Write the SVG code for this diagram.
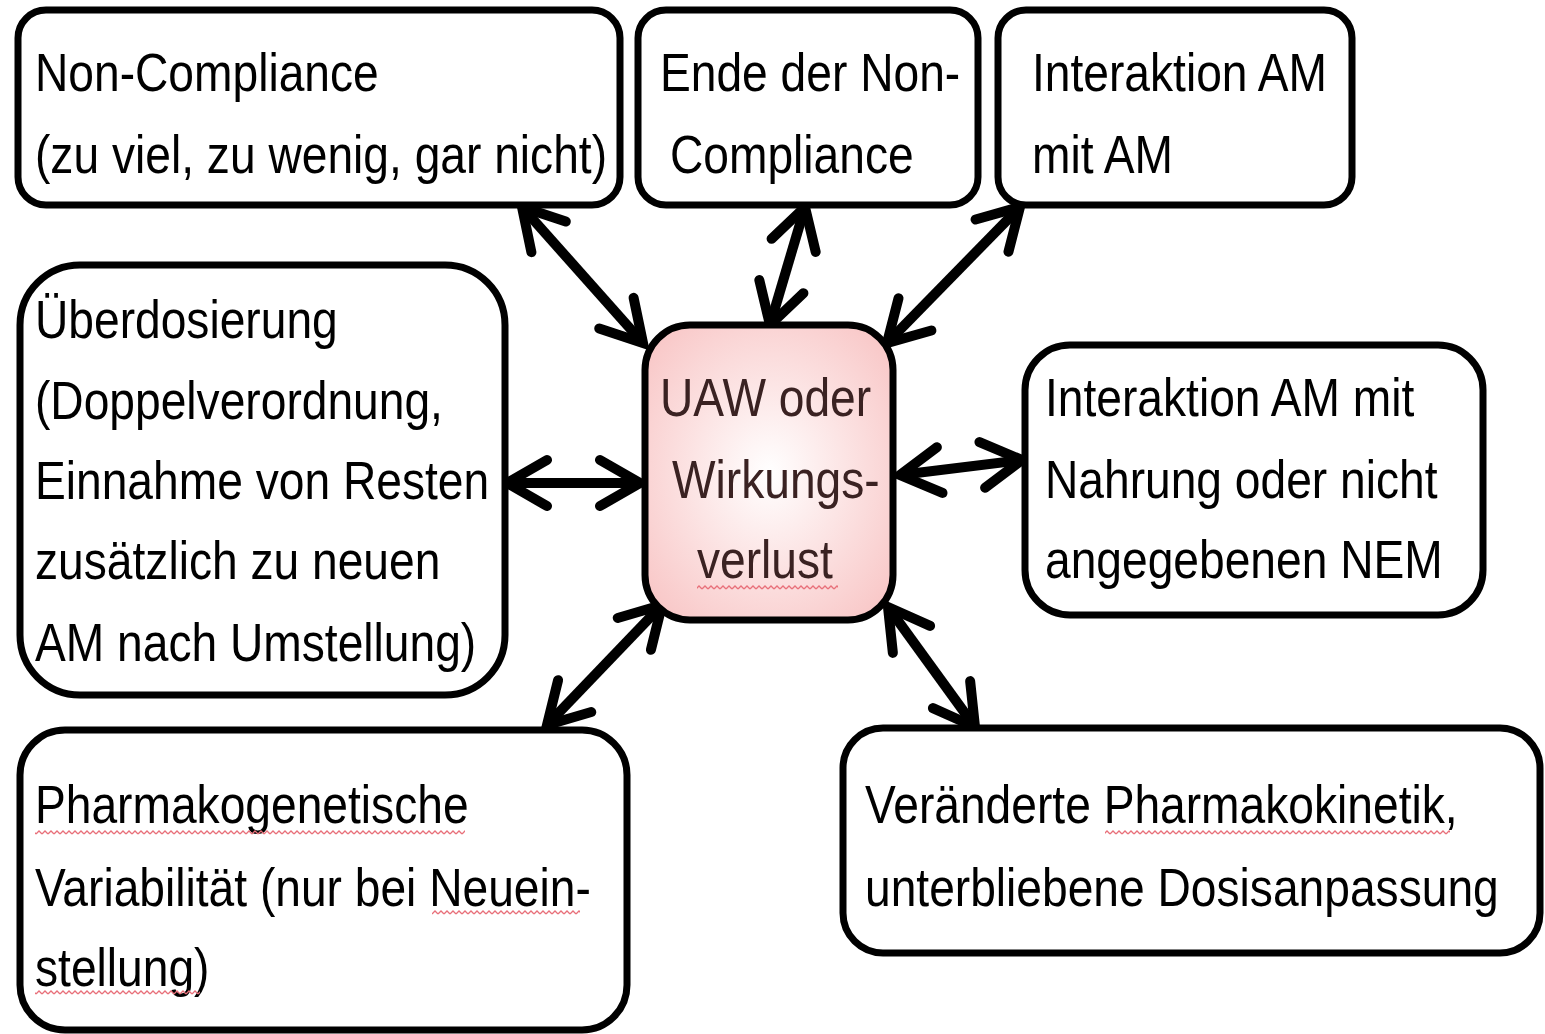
<svg xmlns="http://www.w3.org/2000/svg" width="1545" height="1034" viewBox="0 0 1545 1034">
<defs>
<style>
.box{fill:#fff;stroke:#000;stroke-width:7}
.t{font-family:"Liberation Sans",Arial,sans-serif;font-size:54px;fill:#000}
.c{fill:#3a2222}
.con{stroke:#000;stroke-width:10;fill:none;stroke-linecap:butt}
.sq{fill:url(#squig)}
</style>
<radialGradient id="pink" cx="50%" cy="50%" r="70%">
<stop offset="0" stop-color="#ffffff"/>
<stop offset="1" stop-color="#f8c2c2"/>
</radialGradient>
<pattern id="squig" width="6" height="5" patternUnits="userSpaceOnUse">
<path d="M0,4 L3,1 L6,4" fill="none" stroke="#e8707a" stroke-width="1.3"/>
</pattern>
<marker id="ah" markerUnits="userSpaceOnUse" orient="auto-start-reverse" markerWidth="1" markerHeight="1" refX="0" refY="0" overflow="visible">
<path d="M-40,-23 L0,0 L-40,23" fill="none" stroke="#000" stroke-width="10" stroke-linecap="round" stroke-linejoin="miter"/>
</marker>
</defs>
<rect width="1545" height="1034" fill="#fff"/>

<g id="connectors">
<line class="con" x1="522" y1="207" x2="643" y2="343" marker-start="url(#ah)" marker-end="url(#ah)"/>
<line class="con" x1="805" y1="207" x2="770" y2="325" marker-start="url(#ah)" marker-end="url(#ah)"/>
<line class="con" x1="1020" y1="207" x2="887" y2="343" marker-start="url(#ah)" marker-end="url(#ah)"/>
<line class="con" x1="507" y1="483" x2="640" y2="483" marker-start="url(#ah)" marker-end="url(#ah)"/>
<line class="con" x1="900" y1="475" x2="1022" y2="460" marker-start="url(#ah)" marker-end="url(#ah)"/>
<line class="con" x1="662" y1="605" x2="547" y2="725" marker-start="url(#ah)" marker-end="url(#ah)"/>
<line class="con" x1="888" y1="607" x2="975" y2="727" marker-start="url(#ah)" marker-end="url(#ah)"/>
</g>

<g id="n-noncompliance">
<rect class="box" x="18" y="10" width="602" height="195" rx="28"/>
<text class="t" transform="translate(35 91) scale(0.855 1)">Non-Compliance</text>
<text class="t" transform="translate(35 173) scale(0.855 1)">(zu viel, zu wenig, gar nicht)</text>
</g>

<g id="n-ende">
<rect class="box" x="638" y="10" width="340" height="195" rx="28"/>
<text class="t" transform="translate(660 91) scale(0.855 1)">Ende der Non-</text>
<text class="t" transform="translate(670 173) scale(0.855 1)">Compliance</text>
</g>

<g id="n-interaktion-am">
<rect class="box" x="998" y="10" width="354" height="195" rx="28"/>
<text class="t" transform="translate(1032 91) scale(0.855 1)">Interaktion AM</text>
<text class="t" transform="translate(1032 173) scale(0.855 1)">mit AM</text>
</g>

<g id="n-ueberdosierung">
<rect class="box" x="20" y="265" width="485" height="430" rx="60"/>
<text class="t" transform="translate(35 338) scale(0.855 1)">Überdosierung</text>
<text class="t" transform="translate(35 419) scale(0.855 1)">(Doppelverordnung,</text>
<text class="t" transform="translate(35 499) scale(0.855 1)">Einnahme von Resten</text>
<text class="t" transform="translate(35 579) scale(0.855 1)">zusätzlich zu neuen</text>
<text class="t" transform="translate(35 661) scale(0.855 1)">AM nach Umstellung)</text>
</g>

<g id="n-center">
<rect x="645" y="325" width="248" height="295" rx="45" fill="url(#pink)" stroke="#000" stroke-width="7"/>
<text class="t c" transform="translate(660 416) scale(0.855 1)">UAW oder</text>
<text class="t c" transform="translate(672 498) scale(0.855 1)">Wirkungs-</text>
<text class="t c" transform="translate(697 578) scale(0.855 1)">verlust</text>
<rect class="sq" x="697" y="585" width="141" height="5"/>
</g>

<g id="n-nahrung">
<rect class="box" x="1025" y="345" width="458" height="270" rx="45"/>
<text class="t" transform="translate(1045 416) scale(0.855 1)">Interaktion AM mit</text>
<text class="t" transform="translate(1045 498) scale(0.855 1)">Nahrung oder nicht</text>
<text class="t" transform="translate(1045 578) scale(0.855 1)">angegebenen NEM</text>
</g>

<g id="n-pharmakogenetik">
<rect class="box" x="20" y="730" width="607" height="300" rx="45"/>
<text class="t" transform="translate(35 823) scale(0.855 1)">Pharmakogenetische</text>
<text class="t" transform="translate(35 906) scale(0.855 1)">Variabilität (nur bei Neuein-</text>
<text class="t" transform="translate(35 986) scale(0.855 1)">stellung)</text>
<rect class="sq" x="35" y="830" width="430" height="5"/>
<rect class="sq" x="432" y="910" width="148" height="5"/>
<rect class="sq" x="35" y="990" width="165" height="5"/>
</g>

<g id="n-pharmakokinetik">
<rect class="box" x="843" y="728" width="697" height="225" rx="40"/>
<text class="t" transform="translate(865 823) scale(0.855 1)">Veränderte Pharmakokinetik,</text>
<text class="t" transform="translate(865 906) scale(0.855 1)">unterbliebene Dosisanpassung</text>
<rect class="sq" x="1105" y="830" width="345" height="5"/>
</g>
</svg>
